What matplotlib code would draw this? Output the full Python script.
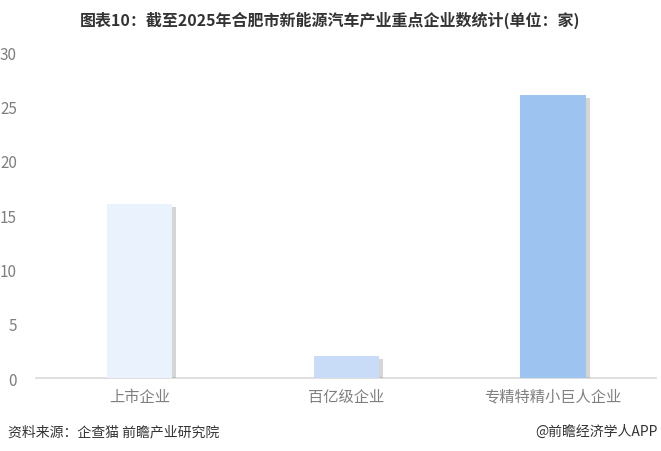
import matplotlib
matplotlib.use('Agg')
import matplotlib.pyplot as plt
import matplotlib.patheffects as pe

plt.rcParams['font.family'] = ['Noto Sans CJK SC', 'DejaVu Sans']

## donnees
categories = ['上市企业', '百亿级企业', '专精特精小巨人企业']
valeurs = [16, 2, 26]
couleurs = ['#EAF3FD', '#C8DCF7', '#9DC3F0']
yticks = [0, 5, 10, 15, 20, 25, 30]

titre = '图表10：截至2025年合肥市新能源汽车产业重点企业数统计(单位：家)'
source = '资料来源：企查猫 前瞻产业研究院'
marque = '@前瞻经济学人APP'

fig = plt.figure(figsize=(6.61, 4.52), dpi=100)
ax = fig.add_axes([0.055, 0.1615, 0.938, 0.7212])

x = list(range(len(categories)))
bars = ax.bar(x, valeurs, width=0.315, color=couleurs, zorder=3)
for b in bars:
    b.set_path_effects([pe.SimplePatchShadow(offset=(3, -2), shadow_rgbFace='#888888', alpha=0.35),
                        pe.Normal()])

ax.set_xlim(-0.5, len(categories) - 0.5)
ax.set_ylim(0, 30)
ax.set_yticks(yticks)
ax.set_xticks(x)
ax.set_xticklabels(categories)

for s in ['top', 'right', 'left']:
    ax.spines[s].set_visible(False)
ax.spines['bottom'].set_color('#D9D9D9')
ax.spines['bottom'].set_linewidth(1.2)
ax.tick_params(axis='both', length=0, colors='#7F7F7F', labelsize=11)
ax.tick_params(axis='x', pad=7)
ax.tick_params(axis='y', pad=14)

fig.text(0.5, 0.955, titre, ha='center', va='center', fontsize=11.5,
         fontweight='bold', color='#333333')
fig.text(0.012, 0.044, source, ha='left', va='center', fontsize=10, color='#333333')
fig.text(0.995, 0.044, marque, ha='right', va='center', fontsize=10, color='#333333')

fig.savefig('out.png', dpi=100)
